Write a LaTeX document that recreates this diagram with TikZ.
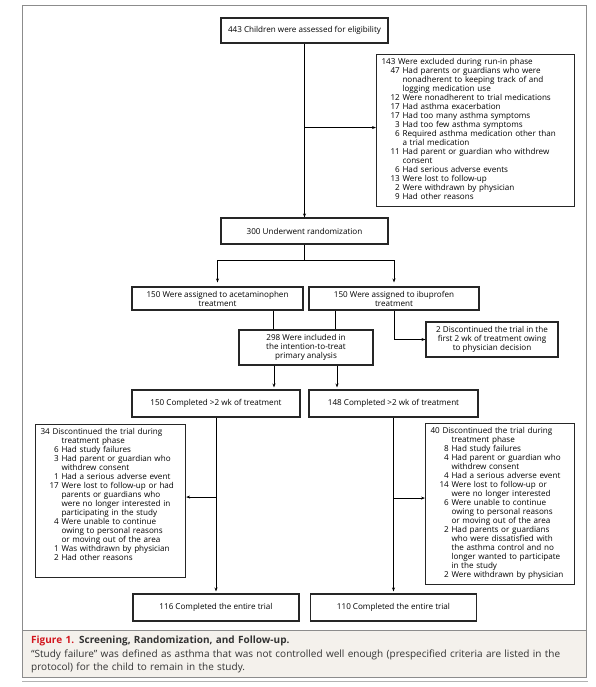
\documentclass[tikz,border=0pt]{standalone}
\usepackage{fontspec}
\setmainfont{Open Sans}
\usetikzlibrary{arrows.meta}

\definecolor{figred}{HTML}{D2161E}
\definecolor{capbg}{HTML}{F4F1EC}

% list with right aligned counts
\newcommand{\lst}[1]{\begin{tabular}{@{\hspace{9pt}}r@{\ }l@{}}#1\end{tabular}}
\newcommand{\hd}[1]{\multicolumn{2}{@{}l@{}}{#1}}

\begin{document}
\begin{tikzpicture}[x=1pt, y=-1pt,
    every node/.style={font=\fontsize{8.1}{9}\selectfont},
    box/.style={draw=black!85, line width=1.1pt, fill=white, align=center, inner sep=1pt},
    lbox/.style={box, align=left, inner xsep=5pt, inner ysep=4pt, anchor=north west},
    flow/.style={-{Stealth[length=4pt,width=3pt]}, line width=0.8pt},
    line/.style={line width=0.8pt}]

    \useasboundingbox (0,0) rectangle (595,687);

    % frame and caption
    \fill[capbg] (22,630) rectangle (586,677);
    \draw[black!45, line width=1pt] (22,6) rectangle (586,677);
    \draw[black!45, line width=1pt] (22,630) -- (586,630);
    \draw[black!30, line width=0.8pt] (22,681) -- (588,681);
    \node[anchor=north west, text width=550pt, align=left, inner sep=0pt,
          font=\fontsize{10}{13.5}\selectfont, text=black!80] (cap) at (31,636)
        {\textcolor{figred}{\textbf{Figure 1.}} \textbf{Screening, Randomization, and Follow-up.}\\
         “Study failure” was defined as asthma that was not controlled well enough (prespecified criteria are listed in the\\
         protocol) for the child to remain in the study.};

    % eligibility
    \node[box, minimum width=167pt, minimum height=25pt] (elig) at (304.5,30.5)
        {443 Children were assessed for eligibility};

    % excluded
    \node[lbox, text width=188pt] (excl) at (376,54) {\lst{%
        \hd{143 Were excluded during run-in phase}\\
        47 & Had parents or guardians who were\\
           & nonadherent to keeping track of and\\
           & logging medication use\\
        12 & Were nonadherent to trial medications\\
        17 & Had asthma exacerbation\\
        17 & Had too many asthma symptoms\\
        3  & Had too few asthma symptoms\\
        6  & Required asthma medication other than\\
           & a trial medication\\
        11 & Had parent or guardian who withdrew\\
           & consent\\
        6  & Had serious adverse events\\
        13 & Were lost to follow-up\\
        2  & Were withdrawn by physician\\
        9  & Had other reasons}};

    % randomization
    \node[box, minimum width=167pt, minimum height=26pt] (rand) at (304.5,231)
        {300 Underwent randomization};

    % treatment groups
    \node[box, minimum width=171pt, minimum height=23pt] (acet) at (217.5,298.5)
        {150 Were assigned to acetaminophen\\treatment};
    \node[box, minimum width=170pt, minimum height=23pt] (ibu) at (394,298.5)
        {150 Were assigned to ibuprofen\\treatment};

    % intention-to-treat
    \node[box, minimum width=134pt, minimum height=35pt] (itt) at (306,347.5)
        {298 Were included in\\the intention-to-treat\\primary analysis};

    % physician decision
    \node[box, minimum width=132pt, minimum height=35pt] (disc) at (492,339.5)
        {2 Discontinued the trial in the\\first 2 wk of treatment owing\\to physician decision};

    % completed 2 wk
    \node[box, minimum width=168pt, minimum height=27pt] (comp1) at (216,403.5)
        {150 Completed >2 wk of treatment};
    \node[box, minimum width=169pt, minimum height=27pt] (comp2) at (393.5,403.5)
        {148 Completed >2 wk of treatment};

    % discontinued, acetaminophen
    \node[lbox, text width=140pt] (lost1) at (35,424) {\parbox[c][145pt][t]{140pt}{\lst{%
        \hd{34 Discontinued the trial during}\\
           & treatment phase\\
        6  & Had study failures\\
        3  & Had parent or guardian who\\
           & withdrew consent\\
        1  & Had a serious adverse event\\
        17 & Were lost to follow-up or had\\
           & parents or guardians who\\
           & were no longer interested in\\
           & participating in the study\\
        4  & Were unable to continue\\
           & owing to personal reasons\\
           & or moving out of the area\\
        1  & Was withdrawn by physician\\
        2  & Had other reasons}}};

    % discontinued, ibuprofen
    \node[lbox, text width=139pt] (lost2) at (425,423) {\lst{%
        \hd{40 Discontinued the trial during}\\
           & treatment phase\\
        8  & Had study failures\\
        4  & Had parent or guardian who\\
           & withdrew consent\\
        4  & Had a serious adverse event\\
        14 & Were lost to follow-up or\\
           & were no longer interested\\
        6  & Were unable to continue\\
           & owing to personal reasons\\
           & or moving out of the area\\
        2  & Had parents or guardians\\
           & who were dissatisfied with\\
           & the asthma control and no\\
           & longer wanted to participate\\
           & in the study\\
        2  & Were withdrawn by physician}};

    % completed trial
    \node[box, minimum width=166pt, minimum height=27pt] (fin1) at (216,607.5)
        {116 Completed the entire trial};
    \node[box, minimum width=166pt, minimum height=27pt] (fin2) at (393.5,607.5)
        {110 Completed the entire trial};

    % connectors
    \draw[flow] (elig) -- (rand);
    \draw[flow] ([yshift=3pt]elig.south |- excl.west) -- ([yshift=3pt]excl.west);
    \draw[line] (rand.south) -- ++(0,16) coordinate (split);
    \draw[flow] (split) -| ([yshift=4pt]acet.north);
    \draw[flow] (split) -| ([yshift=4pt]ibu.north);
    \draw[line] ([xshift=-33pt]itt.north |- acet.south) -- ([xshift=-33pt]itt.north);
    \draw[line] ([xshift=29pt]itt.north |- ibu.south) -- ([xshift=29pt]itt.north);
    \draw[flow] (ibu.south) |- (disc.west);
    \draw[flow] ([xshift=-32pt]itt.south) -- ([xshift=-32pt,yshift=2pt]itt.south |- comp1.north);
    \draw[flow] ([xshift=31pt]itt.south) -- ([xshift=31pt,yshift=2pt]itt.south |- comp2.north);
    \draw[flow] (comp1) -- ([yshift=2pt]fin1.north);
    \draw[flow] ([yshift=4pt]comp1.south |- lost1.east) -- ([yshift=4pt]lost1.east);
    \draw[flow] (comp2) -- ([yshift=2pt]fin2.north);
    \draw[flow] ([yshift=6pt]comp2.south |- lost2.west) -- ([yshift=6pt]lost2.west);

\end{tikzpicture}
\end{document}
